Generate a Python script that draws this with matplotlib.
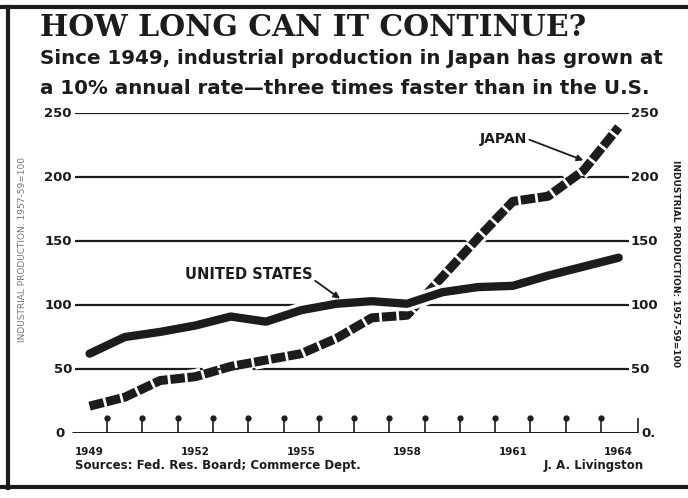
import numpy as np
import matplotlib.pyplot as plt
import matplotlib.patheffects as pe

years = np.arange(1949, 1965)
us = [62, 75, 79, 84, 91, 87, 96, 101, 103, 101, 110, 114, 115, 123, 130, 137]
japan = [21, 28, 41, 44, 52, 57, 62, 74, 90, 92, 122, 152, 181, 185, 205, 239]
grid_vals = [50, 100, 150, 200, 250]
year_labels = [1949, 1952, 1955, 1958, 1961, 1964]
ink = '#1c1c1c'

fig = plt.figure(figsize=(6.88, 4.98), dpi=100)
ax = fig.add_axes([0.102, 0.1305, 0.828, 0.6425])
ax.set_xlim(1948.45, 1964.6)
ax.set_ylim(0, 250)
ax.set_axis_off()

# gridlines with labels on both sides
for v in grid_vals:
    ax.hlines(v, 1948.6, 1964.3, color=ink, lw=1.6, zorder=1)
    ax.text(1948.5, v, str(v), ha='right', va='center', fontsize=9.5,
            fontweight='bold', color=ink, family='DejaVu Sans Condensed')
    ax.text(1964.35, v, str(v), ha='left', va='center', fontsize=9.5,
            fontweight='bold', color=ink, family='DejaVu Sans Condensed')
ax.text(1948.3, 0, "0", ha='right', va='center', fontsize=9.5, fontweight='bold', color=ink)
ax.text(1964.65, 0, "0.", ha='left', va='center', fontsize=9.5, fontweight='bold', color=ink)

# baseline and pin ticks
ax.hlines(0, 1948.5, 1964.55, color=ink, lw=2.2, zorder=2)
pins = years[:-1] + 0.5
ax.vlines(pins, 0, 11, color=ink, lw=1.2, zorder=2)
ax.plot(pins, np.full(len(pins), 12), 'o', color=ink, ms=3.5, zorder=2)
ax.vlines(1964.55, 0, 12, color=ink, lw=1.2, zorder=2)

outline = [pe.Stroke(linewidth=11, foreground='white'), pe.Normal()]
ax.plot(years, us, color=ink, lw=6, solid_capstyle='round', solid_joinstyle='round',
        zorder=4, path_effects=outline)
ax.plot(years, japan, color=ink, lw=6.5, dashes=(1.6, 0.3), dash_capstyle='butt',
        zorder=3, path_effects=outline)

ax.annotate("UNITED STATES", xy=(1956.1, 105), xytext=(1951.7, 124),
            fontsize=10.5, fontweight='bold', color=ink, ha='left', va='center',
            family='DejaVu Sans Condensed',
            arrowprops=dict(arrowstyle='-|>', color=ink, lw=1.3, mutation_scale=9,
                            shrinkA=0, shrinkB=0, relpos=(1.0, 0.2)), zorder=5)
ax.annotate("JAPAN", xy=(1963.0, 213), xytext=(1960.05, 230),
            fontsize=10, fontweight='bold', color=ink, ha='left', va='center',
            family='DejaVu Sans Condensed',
            arrowprops=dict(arrowstyle='-|>', color=ink, lw=1.3, mutation_scale=9,
                            shrinkA=0, shrinkB=0, relpos=(1.0, 0.5)), zorder=5)

for y in year_labels:
    ax.text(y, -11, str(y), ha='center', va='top', fontsize=7.5, fontweight='bold',
            color=ink, family='DejaVu Sans Condensed')

ylab = "INDUSTRIAL PRODUCTION: 1957-59=100"
fig.text(0.033, 0.50, ylab, rotation=90, ha='center', va='center', fontsize=6.5,
         color='#777777', family='DejaVu Sans Condensed')
fig.text(0.982, 0.47, ylab, rotation=270, ha='center', va='center', fontsize=6.5,
         fontweight='bold', color=ink, family='DejaVu Sans Condensed')

fig.text(0.109, 0.065, "Sources: Fed. Res. Board; Commerce Dept.", fontsize=8.5,
         fontweight='bold', color=ink, family='DejaVu Sans Condensed', va='center')
fig.text(0.935, 0.065, "J. A. Livingston", fontsize=8.5, fontweight='bold', color=ink,
         family='DejaVu Sans Condensed', va='center', ha='right')

fig.text(0.058, 0.945, "HOW LONG CAN IT CONTINUE?", fontsize=21.5, fontweight='bold',
         family='DejaVu Serif', color=ink, va='center')
fig.text(0.058, 0.882, "Since 1949, industrial production in Japan has grown at",
         fontsize=14.3, fontweight='bold', family='DejaVu Sans', color=ink, va='center')
fig.text(0.058, 0.822, "a 10% annual rate\u2014three times faster than in the U.S.",
         fontsize=14.3, fontweight='bold', family='DejaVu Sans', color=ink, va='center')

# frame
fig.add_artist(plt.Line2D([0, 1], [0.985, 0.985], color=ink, lw=3))
fig.add_artist(plt.Line2D([0.012, 0.012], [0.02, 0.985], color=ink, lw=3))
fig.add_artist(plt.Line2D([0, 1], [0.022, 0.022], color=ink, lw=3))

fig.savefig("out.png", dpi=100)
